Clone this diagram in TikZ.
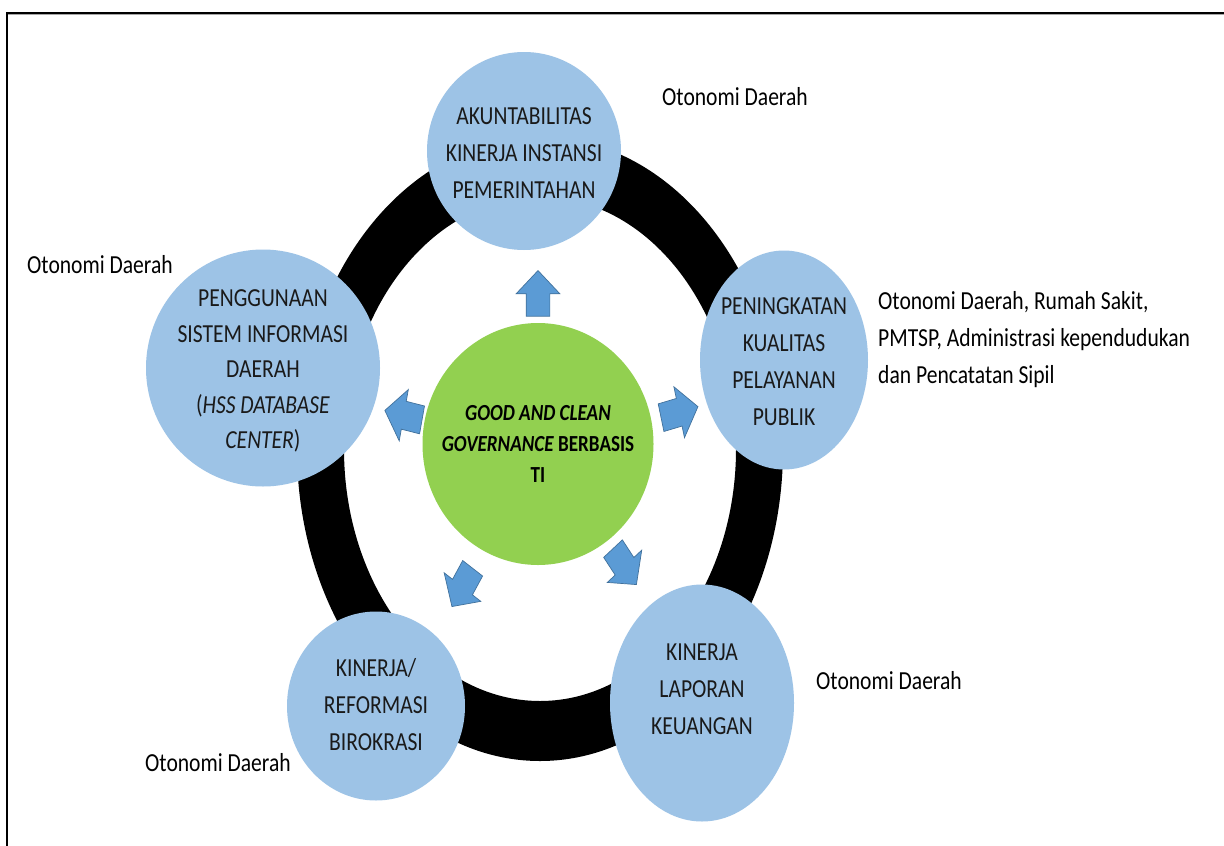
\documentclass[tikz,border=0pt]{standalone}
\usepackage{fontspec}
\setmainfont{Carlito}[FakeStretch=0.83]
\usetikzlibrary{shapes.geometric,shapes.arrows}
\definecolor{cblue}{HTML}{9DC3E6}
\definecolor{ablue}{HTML}{5B9BD5}
\definecolor{aline}{HTML}{41719C}
\definecolor{cgreen}{HTML}{92D050}
\definecolor{txt}{HTML}{1A1A1A}
\begin{document}
\begin{tikzpicture}[x=1pt,y=-1pt,
  bubble/.style={ellipse, fill=cblue, inner sep=0pt},
  bubbletext/.style={inner sep=0pt, align=center, text=txt, font=\fontsize{26}{37}\selectfont},
  hub/.style={ellipse, fill=cgreen, inner sep=0pt},
  hubtext/.style={inner sep=0pt, align=center, text=black, font=\bfseries\fontsize{23}{31}\selectfont},
  blockarrow/.style={single arrow, fill=ablue, draw=aline, line width=0.7pt, inner xsep=0pt, inner ysep=11.5pt, minimum height=38pt, single arrow head extend=10pt, single arrow tip angle=97, anchor=tip, yscale=1.2},
  note/.style={text=black, font=\fontsize{26}{37}\selectfont, inner sep=0pt, align=left, anchor=west}
]
\useasboundingbox (0,0) rectangle (1224,846);
\fill[white] (0,0) rectangle (1224,846);
% frame
\draw[gray!70, line width=1pt] (8,14.8) -- (1224,14.8);
\draw[black, line width=2.2pt] (6.7,846) -- (6.7,13) -- (1224,13);
% ring
\fill[black, even odd rule] (540,449) ellipse [x radius=243pt, y radius=312pt]
                            (540,449) ellipse [x radius=196pt, y radius=252pt];
% outer circles
\node[bubble, minimum width=194pt, minimum height=198pt] (top) at (524,151) {};
\node[bubble, minimum width=168pt, minimum height=219pt] (right) at (784,360) {};
\node[bubble, minimum width=184pt, minimum height=237pt] (bright) at (702,703) {};
\node[bubble, minimum width=178pt, minimum height=189pt] (bleft) at (376,706) {};
\node[bubble, minimum width=234pt, minimum height=237pt] (left) at (263,368) {};
% centre
\node[hub, minimum width=231pt, minimum height=242pt] (hub) at (538,444) {};
% circle texts
\node[bubbletext] (ttop) at (524,153) {AKUNTABILITAS\\KINERJA INSTANSI\\PEMERINTAHAN};
\node[bubbletext] (tright) at (784,362) {PENINGKATAN\\KUALITAS\\PELAYANAN\\PUBLIK};
\node[bubbletext] (tbright) at (702,689) {KINERJA\\LAPORAN\\KEUANGAN};
\node[bubbletext] (tbleft) at (376,705) {KINERJA/\\REFORMASI\\BIROKRASI};
\node[bubbletext, font=\fontsize{26}{35.5}\selectfont] (tleft) at (263,371) {PENGGUNAAN\\SISTEM INFORMASI\\DAERAH\\(\textit{HSS DATABASE}\\\textit{CENTER})};
\node[hubtext] (thub) at (538,444) {\textit{GOOD AND CLEAN}\\\textit{GOVERNANCE} BERBASIS\\TI};
% block arrows
\node[blockarrow, rotate=90] (a1) at (538,270) {};
\node[blockarrow, rotate=14] (a2) at (698.4,406.5) {};
\node[blockarrow, rotate=-52] (a3) at (636.7,585) {};
\node[blockarrow, rotate=-123] (a4) at (451.7,607) {};
\node[blockarrow, rotate=168] (a5) at (384.4,410.3) {};
% notes
\node[note] (n1) at (662,97) {Otonomi Daerah};
\node[note] (n2) at (27,265) {Otonomi Daerah};
\node[note] (n3) at (878,340) {Otonomi Daerah, Rumah Sakit,\\PMTSP, Administrasi kependudukan\\dan Pencatatan Sipil};
\node[note] (n4) at (816,681) {Otonomi Daerah};
\node[note] (n5) at (145,763) {Otonomi Daerah};
\end{tikzpicture}
\end{document}
